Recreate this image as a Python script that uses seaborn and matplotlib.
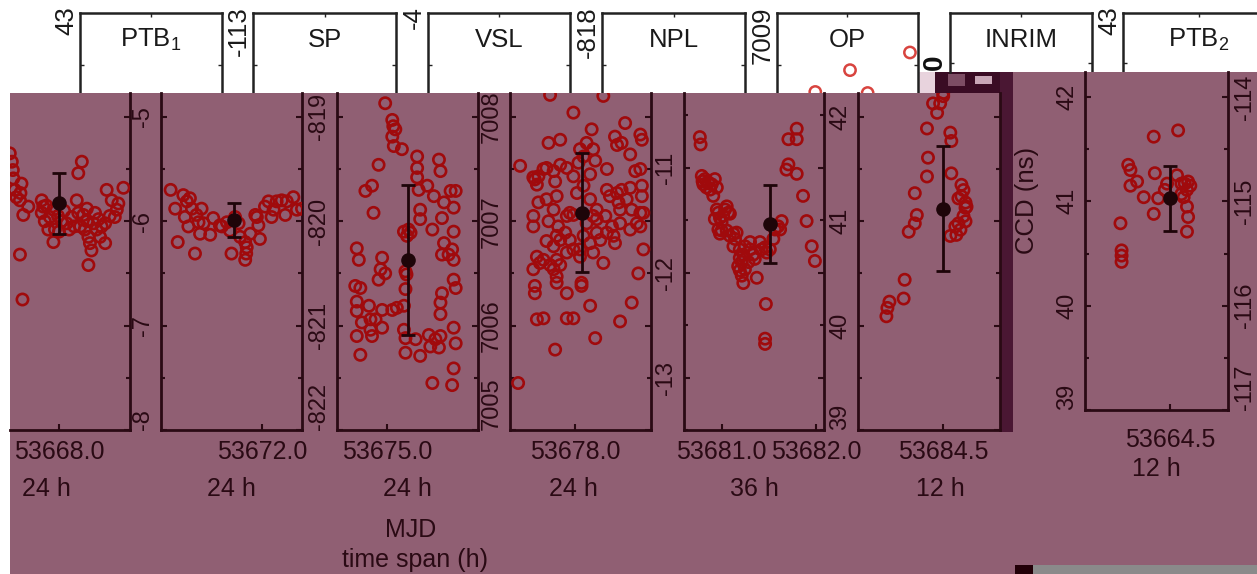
import matplotlib
matplotlib.use("Agg")
import matplotlib.pyplot as plt
import seaborn as sns
from matplotlib.patches import Rectangle
from matplotlib.ticker import MultipleLocator

sns.set_theme(style="white")
plt.rcParams['font.family'] = ['Liberation Sans', 'DejaVu Sans']
plt.rcParams['mathtext.fontset'] = 'custom'
plt.rcParams['mathtext.rm'] = 'Liberation Sans'

# ---------------- data ----------------
header_titles = ["PTB$_\\mathregular{1}$", "SP", "VSL", "NPL", "OP", "INRIM", "PTB$_\\mathregular{2}$"]
header_top_labels = ["43", "-113", "-4", "-818", "7009", "0", "43"]

op_top_hours = [13.2, 7.25, 3.8, 9.0]
op_top_vals = [42.69, 42.52, 42.31, 42.30]

p1_hours = [4.3, 4.7, 4.9, 5.0, 5.3, 5.6, 6.3, 6.6, 6.4, 6.96, 7.95, 6.3, 6.8,
            10.6, 10.9, 10.6, 11.2, 12.2, 12.9, 13.2, 11.9, 12.9, 14.5, 15.5, 16.5, 17.5, 17.8, 18.2,
            18.5, 17.8, 18.8, 19.5, 19.1, 19.8, 20.1, 20.4, 19.8, 20.8, 21.1, 21.4, 22.1, 22.4, 23.1,
            23.1, 23.4, 24.4, 25.4, 25.7, 26.7, 25.0, 13.8, 15.0, 16.0, 17.0, 19.5, 21.8, 24.0, 11.5, 14.0]
p1_vals = [-5.35, -5.43, -5.51, -5.59, -5.70, -5.77, -5.80, -5.64, -5.73, -5.94, -5.86, -6.32, -6.75,
           -5.80, -5.86, -5.92, -6.00, -5.96, -5.89, -6.08, -6.08, -6.20, -6.00, -6.02, -5.96, -5.80, -5.92, -6.05,
           -5.43, -5.54, -5.94, -6.00, -6.08, -6.15, -6.21, -6.28, -6.42, -6.02, -5.92, -6.08, -6.15, -6.05, -6.02,
           -6.21, -5.70, -5.80, -5.89, -5.83, -5.68, -5.96, -5.95, -5.90, -6.08, -6.05, -5.88, -5.98, -5.95, -5.85, -6.10]

p2_hours = [1.9, 2.8, 3.3, 4.4, 5.1, 4.7, 5.7, 6.1, 5.4, 7.0, 6.7, 7.4, 8.0, 8.4, 9.7, 10.3, 12.0, 13.6, 13.9,
            14.6, 15.3, 15.6, 16.6, 16.9, 16.8, 16.6, 17.6, 18.6, 19.2, 19.5, 18.9, 20.5, 21.2, 22.2, 22.8,
            23.8, 24.5, 24.8, 26.1, 26.8, 27.8, 21.8, 7.7, 11.6, 13.0]
p2_vals = [-5.70, -5.88, -6.20, -5.75, -5.81, -5.96, -5.78, -5.88, -6.05, -5.94, -6.31, -6.01, -5.88, -6.02,
           -6.13, -5.97, -6.05, -6.09, -6.31, -5.96, -6.02, -6.15, -6.20, -6.25, -6.31, -6.37, -6.12, -5.94,
           -6.04, -6.17, -5.96, -5.86, -5.81, -5.89, -5.81, -5.80, -5.94, -5.81, -5.77, -5.89, -5.88, -5.96,
           -6.12, -6.04, -6.01]

p3_hours = [9.5, 10.9, 11.1, 11.5, 10.9, 11.2, 12.8, 8.2, 6.9, 5.6, 7.2, 3.9, 4.3, 8.9, 8.6, 9.5, 8.2, 3.6,
            4.6, 3.9, 3.9, 6.3, 6.6, 8.9, 7.6, 10.9, 4.9, 6.6, 8.9, 6.9, 3.9, 4.6, 11.8, 13.2, 13.5, 13.5,
            13.8, 14.1, 14.5, 15.8, 15.8, 15.8, 16.1, 16.4, 16.4, 17.8, 19.1, 20.1, 20.4, 21.1, 20.7, 22.4,
            23.4, 23.0, 18.8, 21.1, 23.0, 20.7, 22.0, 23.0, 22.7, 23.0, 23.4, 20.7, 20.4, 20.4, 20.4, 20.1,
            23.0, 23.4, 23.0, 22.7, 18.8, 13.2, 13.5, 13.5, 15.5, 16.4, 18.1, 18.4, 19.4, 13.2, 13.7]
p3_vals = [-818.87, -819.03, -819.09, -819.12, -819.19, -819.28, -819.31, -819.46, -819.66, -819.71, -819.92,
           -820.26, -820.37, -820.35, -820.46, -820.50, -820.56, -820.62, -820.64, -820.77, -820.86, -820.81,
           -820.94, -820.85, -820.94, -820.85, -820.97, -821.04, -821.02, -821.10, -821.10, -821.28, -820.83,
           -820.81, -820.65, -820.48, -820.14, -820.08, -820.11, -819.38, -819.49, -819.58, -819.70, -819.89,
           -819.98, -819.66, -819.76, -819.41, -819.52, -819.82, -819.97, -819.71, -819.71, -819.87, -820.08,
           -820.21, -820.10, -820.32, -820.32, -820.37, -820.27, -820.56, -820.64, -820.69, -820.78, -820.89,
           -821.10, -821.21, -821.02, -821.17, -821.41, -821.57, -821.55, -821.04, -821.12, -821.26, -821.13,
           -821.29, -821.09, -821.20, -821.13, -820.10, -820.51]

p4_hours = [2.0, 1.6, 4.6, 4.9, 5.3, 5.6, 6.6, 7.2, 7.6, 8.6, 8.9, 9.9, 9.9, 11.2, 12.5, 7.9, 18.4, 15.1, 16.1,
            16.4, 14.5, 13.8, 13.5, 15.8, 19.1, 20.7, 21.1, 22.0, 22.7, 23.7, 25.7, 26.0,
            4.6, 4.6, 5.6, 7.2, 7.6, 9.2, 9.5, 11.8, 11.2, 12.5, 13.2, 14.5, 15.8, 17.1, 19.1, 19.7, 21.1,
            21.4, 22.0, 23.0, 23.7, 24.7, 25.7, 26.0, 26.0, 25.7, 25.0, 26.3, 24.0, 21.7, 20.4, 20.1, 19.1,
            18.8, 17.1, 16.4, 15.1, 15.8, 14.5, 13.8, 11.8, 10.9, 9.9, 9.2, 8.6, 7.2, 6.6, 5.3, 4.6, 5.9,
            7.9, 8.6, 9.9, 11.2, 12.5, 13.8, 16.4, 17.8, 18.4, 20.7, 23.7, 25.7, 26.3, 25.3, 24.0, 21.7,
            16.8, 15.8, 14.1, 14.1, 9.2, 9.2, 11.2, 11.2, 12.5, 5.3, 6.6, 8.9, 4.9, 4.9, 9.2, 12.5, 16.8,
            17.1, 21.7, 8.6]
p4_vals = [7007.53, 7005.45, 7007.42, 7007.40, 7007.35, 7007.43, 7007.50, 7007.51, 7007.75, 7007.48, 7007.38,
           7007.78, 7007.54, 7007.51, 7008.04, 7008.21, 7008.20, 7007.75, 7007.88, 7007.69, 7007.62, 7007.69,
           7007.56, 7007.45, 7007.50, 7007.81, 7007.73, 7007.75, 7007.94, 7007.64, 7007.83, 7007.78,
           7007.05, 7006.95, 7007.18, 7007.21, 7007.00, 7007.24, 7006.95, 7007.08, 7007.05, 7007.06, 7007.27,
           7007.34, 7007.21, 7007.11, 7007.30, 7007.24, 7007.27, 7007.18, 7007.30, 7007.21, 7007.32, 7007.48,
           7007.50, 7007.34, 7007.24, 7007.08, 7006.98, 7007.08, 7007.11, 7006.98, 7006.86, 7006.95, 7006.89,
           7007.05, 7006.89, 7007.05, 7006.98, 7006.79, 7006.86, 7006.73, 7006.82, 7006.89, 7006.82, 7006.86,
           7006.76, 7006.81, 7006.63, 7006.66, 7006.54, 7006.60, 7006.58, 7006.54, 7006.58, 7006.70, 7006.73,
           7006.66, 7006.70, 7006.82, 7006.60, 7006.79, 7006.92, 7006.95, 7006.73, 7006.50, 7006.22, 7006.04,
           7005.88, 7006.19, 7006.41, 7006.38, 7006.47, 7006.41, 7006.31, 7006.07, 7006.07, 7006.06, 7006.07,
           7005.77, 7006.38, 7006.31, 7006.63, 7007.43, 7007.58, 7007.02, 7007.11, 7007.11]

p5_hours = [4.0, 4.2, 4.5, 4.7, 4.9, 5.3, 5.7, 6.1, 6.6, 7.0, 7.8, 7.4, 8.3, 8.3, 8.7, 9.1, 9.5, 9.9, 10.4,
            10.8, 11.2, 11.6, 7.8, 8.7, 9.1, 9.5, 10.8, 11.6, 12.5, 12.9, 13.3, 12.5, 14.1, 15.0, 15.4, 14.1,
            14.6, 13.7, 14.1, 14.6, 15.0, 15.4, 16.3, 16.7, 17.5, 16.7, 17.9, 18.4, 19.2, 19.6, 20.5, 20.9,
            21.7, 22.6, 23.0, 23.8, 24.7, 24.3, 20.7, 20.5, 20.5, 25.9, 26.4, 28.5, 26.4, 28.5, 28.5, 30.1,
            31.0, 32.3, 33.1]
p5_vals = [-10.71, -10.78, -11.08, -11.13, -11.16, -11.11, -11.19, -11.14, -11.21, -11.16, -11.11, -11.27,
           -11.19, -11.40, -11.43, -11.48, -11.52, -11.46, -11.40, -11.37, -11.43, -11.44, -11.49, -11.59,
           -11.63, -11.60, -11.60, -11.65, -11.63, -11.68, -11.62, -11.75, -11.78, -11.83, -11.75, -11.86,
           -11.90, -11.94, -11.98, -12.03, -12.10, -11.97, -11.90, -11.78, -11.83, -11.71, -11.87, -12.05,
           -11.71, -11.78, -11.76, -11.81, -11.78, -11.68, -11.59, -11.56, -11.51, -11.59, -12.30, -12.63,
           -12.68, -11.02, -10.97, -11.06, -10.73, -10.73, -10.63, -11.27, -11.51, -11.75, -11.89]

p6_hours = [2.8, 2.9, 3.1, 4.5, 4.6, 5.0, 5.6, 5.8, 5.6, 6.8, 6.9, 6.8, 7.4, 7.8, 8.1, 8.4, 9.1, 9.2, 9.2,
            10.2, 10.4, 10.2, 9.9, 10.6, 10.6, 10.7, 10.4, 10.6, 9.9, 10.1, 9.6, 9.7, 9.1, 8.4]
p6_vals = [40.09, 40.17, 40.23, 40.26, 40.44, 40.90, 40.98, 41.06, 41.27, 41.43, 41.61, 41.89, 42.13, 42.04,
           42.13, 42.23, 41.85, 41.77, 41.46, 41.35, 41.30, 41.24, 41.22, 41.18, 41.13, 41.14, 41.05, 41.00,
           40.98, 40.92, 40.95, 40.87, 40.86, 42.20]

p7_hours = [3.2, 3.3, 3.3, 3.3, 3.9, 4.1, 4.1, 4.7, 5.3, 6.2, 6.3, 6.2, 6.6, 7.2, 7.4, 8.4, 8.3, 8.7, 8.7,
            9.0, 9.2, 9.3, 9.5, 9.2, 9.3, 9.2, 8.9]
p7_vals = [40.79, 40.53, 40.48, 40.42, 41.35, 41.30, 41.15, 41.19, 41.04, 41.62, 41.27, 40.88, 41.03, 41.11,
           41.17, 41.68, 41.25, 41.17, 41.07, 41.17, 41.11, 41.19, 41.15, 40.95, 40.85, 40.71, 41.04]

mean_hours = [14.07, 14.3, 13.9, 14.1, 21.7, 8.4, 7.7]
mean_vals = [-5.83, -5.99, -820.37, 7007.08, -11.54, 41.12, 41.03]
mean_errs = [0.29, 0.16, 0.72, 0.57, 0.37, 0.60, 0.31]

x_limits = [(4.34, 28.0), (0, 27.8), (0, 27.8), (0, 27.8), (0, 35.4), (0, 14.0), (0, 12.9)]
tick_hours = [[14.0], [19.9], [9.9], [12.8], [9.5, 33.5], [8.4], [7.7]]
tick_labels = [["53668.0"], ["53672.0"], ["53675.0"], ["53678.0"], ["53681.0", "53682.0"], ["53684.5"], ["53664.5"]]
y_limits = [(-8, -4.772), (-8, -4.772), (-822, -818.772), (7005, 7008.228), (-13.5, -10.29), (39, 42.23), (39, 42.24)]
y_ticks = [[-8, -7, -6, -5], [-8, -7, -6, -5], [-822, -821, -820, -819], [7005, 7006, 7007, 7008],
           [-13, -12, -11], [39, 40, 41, 42], [39, 40, 41, 42]]
right_ticks = [-117, -116, -115, -114]
right_limits = (-117, -113.76)
span_labels = ["24 h", "24 h", "24 h", "24 h", "36 h", "12 h", "12 h"]

# ---------------- style / layout ----------------
W, H = 1257, 574
MAUVE = '#905f73'
RED = '#a00a0c'
DARK = '#2a0a14'
HEAD = '#222222'

fig = plt.figure(figsize=(W / 100, H / 100), dpi=100)
fig.patch.set_facecolor('white')


def box(x0, y0, x1, y1):
    return [x0 / W, 1 - y1 / H, (x1 - x0) / W, (y1 - y0) / H]


def frect(x0, y0, x1, y1, color, z=-5):
    fig.add_artist(Rectangle((x0 / W, 1 - y1 / H), (x1 - x0) / W, (y1 - y0) / H,
                             transform=fig.transFigure, facecolor=color, edgecolor='none', zorder=z))


# background overlays
frect(10, 93, W, H, MAUVE)
frect(1000, 72, W, 93, MAUVE)
frect(905, 72, 935, 93, '#e8d3dd')
frect(935, 72, 1000, 93, '#3a0c24')
frect(948, 74, 965, 86, '#7d4d64', z=-4)
frect(975, 76, 992, 84, '#c9a7b7', z=-4)
frect(1000, 72, 1013, 432, '#4a1733', z=-4)
frect(1015, 565, 1033, H, '#220008', z=-4)
frect(1033, 565, W, H, '#8a8a8a', z=-4)

# header boxes
head_boxes = [(80, 222, 93), (253, 396, 93), (428, 570, 93), (602, 745, 93), (777, 918, 93),
              (950, 1092, 72), (1123, 1275, 72)]
for i, (x0, x1, yb) in enumerate(head_boxes):
    hax = fig.add_axes(box(x0, 13, x1, yb))
    hax.set_facecolor('white')
    hax.set_xlim(0, 1)
    hax.set_ylim(0, 1)
    for s in hax.spines.values():
        s.set_color(HEAD)
        s.set_linewidth(1.8)
        s.set_visible(True)
    hax.spines['bottom'].set_visible(False)
    hax.set_xticks([0.5])
    hax.set_yticks([0.35 if yb == 93 else 0.15])
    hax.tick_params(direction='in', length=3, width=1, colors=HEAD, top=True, bottom=False,
                    left=True, right=True, labelbottom=False, labelleft=False)
    hax.annotate(header_titles[i], xy=(0.5, 1), xycoords='axes fraction', xytext=(0, -27 * 0.72),
                 textcoords='offset points', ha='center', va='center', fontsize=18.5, color='#1a1a1a')
    if i == 5:
        fig.text((x0 - 15) / W, 1 - 62 / H, header_top_labels[i], rotation=90, ha='center', va='center',
                 fontsize=20, fontweight='bold', color='#111111')
    else:
        fig.text((x0 - 14) / W, 1 - 6 / H, header_top_labels[i], rotation=90, ha='center', va='top',
                 fontsize=18.5, color='#1a1a1a')
    if i == 4:
        oax = fig.add_axes(box(x0, 13, x1, yb))
        oax.set_xlim(0, 14)
        oax.set_ylim(42.3, 43.07)
        oax.axis('off')
        sns.scatterplot(x=op_top_hours, y=op_top_vals, ax=oax, s=66, legend=False)
        c = oax.collections[-1]
        c.set_facecolor('none')
        c.set_edgecolor('#d8443f')
        c.set_linewidth(1.8)

# lower panels
panels = [(10, 130, 93, 430), (161, 302, 93, 430), (337, 478, 93, 430), (510, 651, 93, 430),
          (684, 824, 93, 430), (858, 1000, 93, 430), (1085, 1228, 72, 410)]
series = [(p1_hours, p1_vals), (p2_hours, p2_vals), (p3_hours, p3_vals), (p4_hours, p4_vals),
          (p5_hours, p5_vals), (p6_hours, p6_vals), (p7_hours, p7_vals)]
span_x = [0.30, 0.5, 0.5, 0.45, 0.5, 0.58, 0.5]

for i, (x0, x1, yt, yb) in enumerate(panels):
    ax = fig.add_axes(box(x0, yt, x1, yb))
    ax.set_facecolor(MAUVE)
    hrs, vals = series[i]
    sns.scatterplot(x=hrs, y=vals, ax=ax, s=66, legend=False, zorder=3)
    pts = ax.collections[-1]
    pts.set_facecolor('none')
    pts.set_edgecolor(RED)
    pts.set_linewidth(1.9)
    ax.errorbar(mean_hours[i], mean_vals[i], yerr=mean_errs[i], fmt='o', color='#1e0509', ms=9.5,
                capsize=5, elinewidth=2, capthick=2, zorder=4)
    ax.set_xlim(*x_limits[i])
    ax.set_ylim(*y_limits[i])
    ax.set_xticks(tick_hours[i])
    ax.set_xticklabels(tick_labels[i])
    ax.set_yticks(y_ticks[i])
    ax.set_yticklabels([str(v) for v in y_ticks[i]])
    ax.yaxis.set_minor_locator(MultipleLocator(0.5))
    ax.set_xlabel('')
    ax.set_ylabel('')
    for s in ax.spines.values():
        s.set_color(DARK)
        s.set_linewidth(2)
        s.set_visible(True)
    ax.spines['top'].set_visible(False)
    if i == 0:
        ax.spines['left'].set_visible(False)
    ax.tick_params(axis='x', direction='in', length=4, width=1.5, color=DARK, labelcolor=DARK,
                   labelsize=18, pad=(13 if i == 6 else 7), bottom=True, top=False)
    ax.tick_params(axis='y', which='both', direction='in', length=4, width=1.5, color=DARK,
                   labelcolor=DARK, labelsize=17, pad=5, left=(i != 0), right=True,
                   labelleft=(i != 0), labelrotation=90)
    ax.tick_params(axis='y', which='minor', length=3)
    ylabels = ax.get_yticklabels()
    for k, lbl in enumerate(ylabels):
        lbl.set_va('bottom' if (k == 0 and y_ticks[i][0] == y_limits[i][0]) else 'center')
    ax.annotate(span_labels[i], xy=(span_x[i], 0), xycoords='axes fraction', xytext=(0, -59 * 0.72),
                textcoords='offset points', ha='center', va='center', fontsize=18, color=DARK)
    if i == 6:
        ax2 = ax.twinx()
        ax2.set_ylim(*right_limits)
        ax2.set_yticks(right_ticks)
        ax2.set_yticklabels([str(v) for v in right_ticks])
        ax2.yaxis.set_minor_locator(MultipleLocator(0.5))
        for s in ax2.spines.values():
            s.set_visible(False)
        ax2.tick_params(axis='y', which='both', direction='in', length=4, width=1.5, color=DARK,
                        labelcolor=DARK, labelsize=17, pad=4, labelrotation=90, right=True)
        ax2.tick_params(axis='y', which='minor', length=3)
        for k, lbl in enumerate(ax2.get_yticklabels()):
            lbl.set_va('bottom' if k == 0 else 'center')
        ax2.grid(False)
    ax.grid(False)

fig.text(411 / W, 1 - 530 / H, "MJD", ha='center', va='center', fontsize=18, color=DARK)
fig.text(415 / W, 1 - 572 / H, "time span (h)", ha='center', va='bottom', fontsize=18, color=DARK)
fig.text(1027 / W, 1 - 200 / H, "CCD (ns)", rotation=90, ha='center', va='center', fontsize=18.5, color=DARK)

fig.savefig("out.png", dpi=100, facecolor='white')
